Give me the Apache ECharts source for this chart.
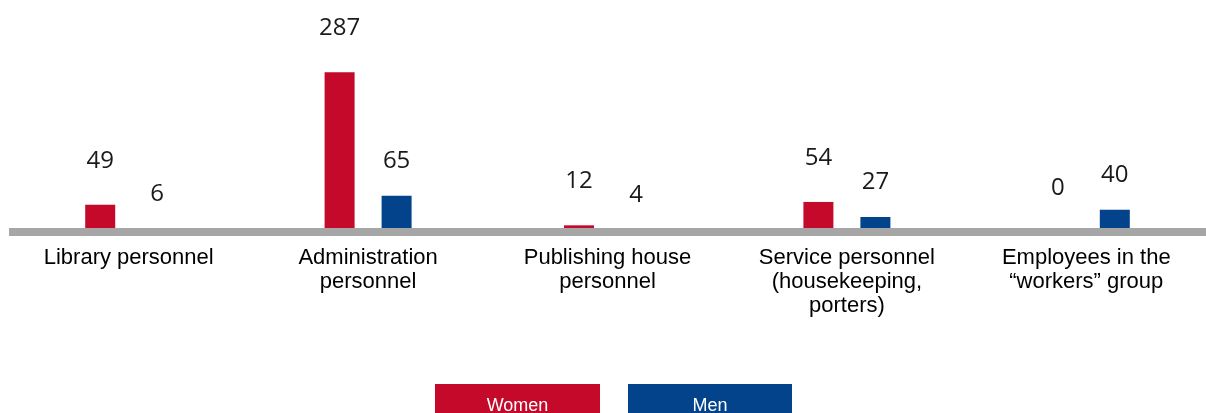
<!DOCTYPE html>
<html>
<head>
<meta charset="utf-8">
<script src="https://cdn.jsdelivr.net/npm/echarts@6/dist/echarts.min.js"></script>
<style>
html,body{margin:0;padding:0;background:#fff;}
#chart{width:1206px;height:413px;}
</style>
</head>
<body>
<div id="chart"></div>
<script>
const categories = [
  'Library personnel',
  'Administration\npersonnel',
  'Publishing house\npersonnel',
  'Service personnel\n(housekeeping,\nporters)',
  'Employees in the\n\u201cworkers\u201d group'
];
const women = [49, 287, 12, 54, 0];
const men = [6, 65, 4, 27, 40];
const seriesNames = ['Women', 'Men'];
const colors = ['#c4092b', '#03438b'];

const chart = echarts.init(document.getElementById('chart'), null, {renderer: 'canvas'});
const labelFont = {fontFamily: '"Open Sans", sans-serif', fontSize: 24, color: '#1a1a1a'};
const option = {
  animation: false,
  grid: {left: 9, right: 0, top: 65, bottom: 181, containLabel: false},
  xAxis: {
    type: 'category',
    data: categories,
    z: 10,
    axisLine: {show: true, lineStyle: {color: '#a6a6a6', width: 8, cap: 'butt'}},
    axisTick: {show: false},
    axisLabel: {
      interval: 0, margin: 14, color: '#000',
      fontFamily: '"Liberation Sans", Arial, sans-serif', fontSize: 22, lineHeight: 24
    },
    splitLine: {show: false}
  },
  yAxis: {type: 'value', min: 0, max: 300, show: false, splitLine: {show: false}},
  legend: {
    left: 430, top: 384, padding: 0,
    icon: 'none', itemWidth: 0, itemHeight: 0, itemGap: 23,
    selectedMode: false,
    data: seriesNames,
    formatter: function (name) { return '{s' + seriesNames.indexOf(name) + '|' + name + '}'; },
    textStyle: {
      rich: {
        s0: {backgroundColor: colors[0], color: '#fff', width: 165, height: 44, lineHeight: 44, align: 'center', fontSize: 18, fontFamily: '"Liberation Sans", Arial, sans-serif'},
        s1: {backgroundColor: colors[1], color: '#fff', width: 164, height: 44, lineHeight: 44, align: 'center', fontSize: 18, fontFamily: '"Liberation Sans", Arial, sans-serif'}
      }
    }
  },
  series: [
    {
      name: seriesNames[0], type: 'bar', data: women, barWidth: 30, barGap: '90%',
      itemStyle: {color: colors[0]},
      label: Object.assign({show: true, position: 'top', distance: 32}, labelFont)
    },
    {
      name: seriesNames[1], type: 'bar', data: men, barWidth: 30, barGap: '90%',
      itemStyle: {color: colors[1]},
      label: Object.assign({show: true, position: 'top', distance: 23}, labelFont)
    }
  ]
};
chart.setOption(option);
</script>
</body>
</html>
